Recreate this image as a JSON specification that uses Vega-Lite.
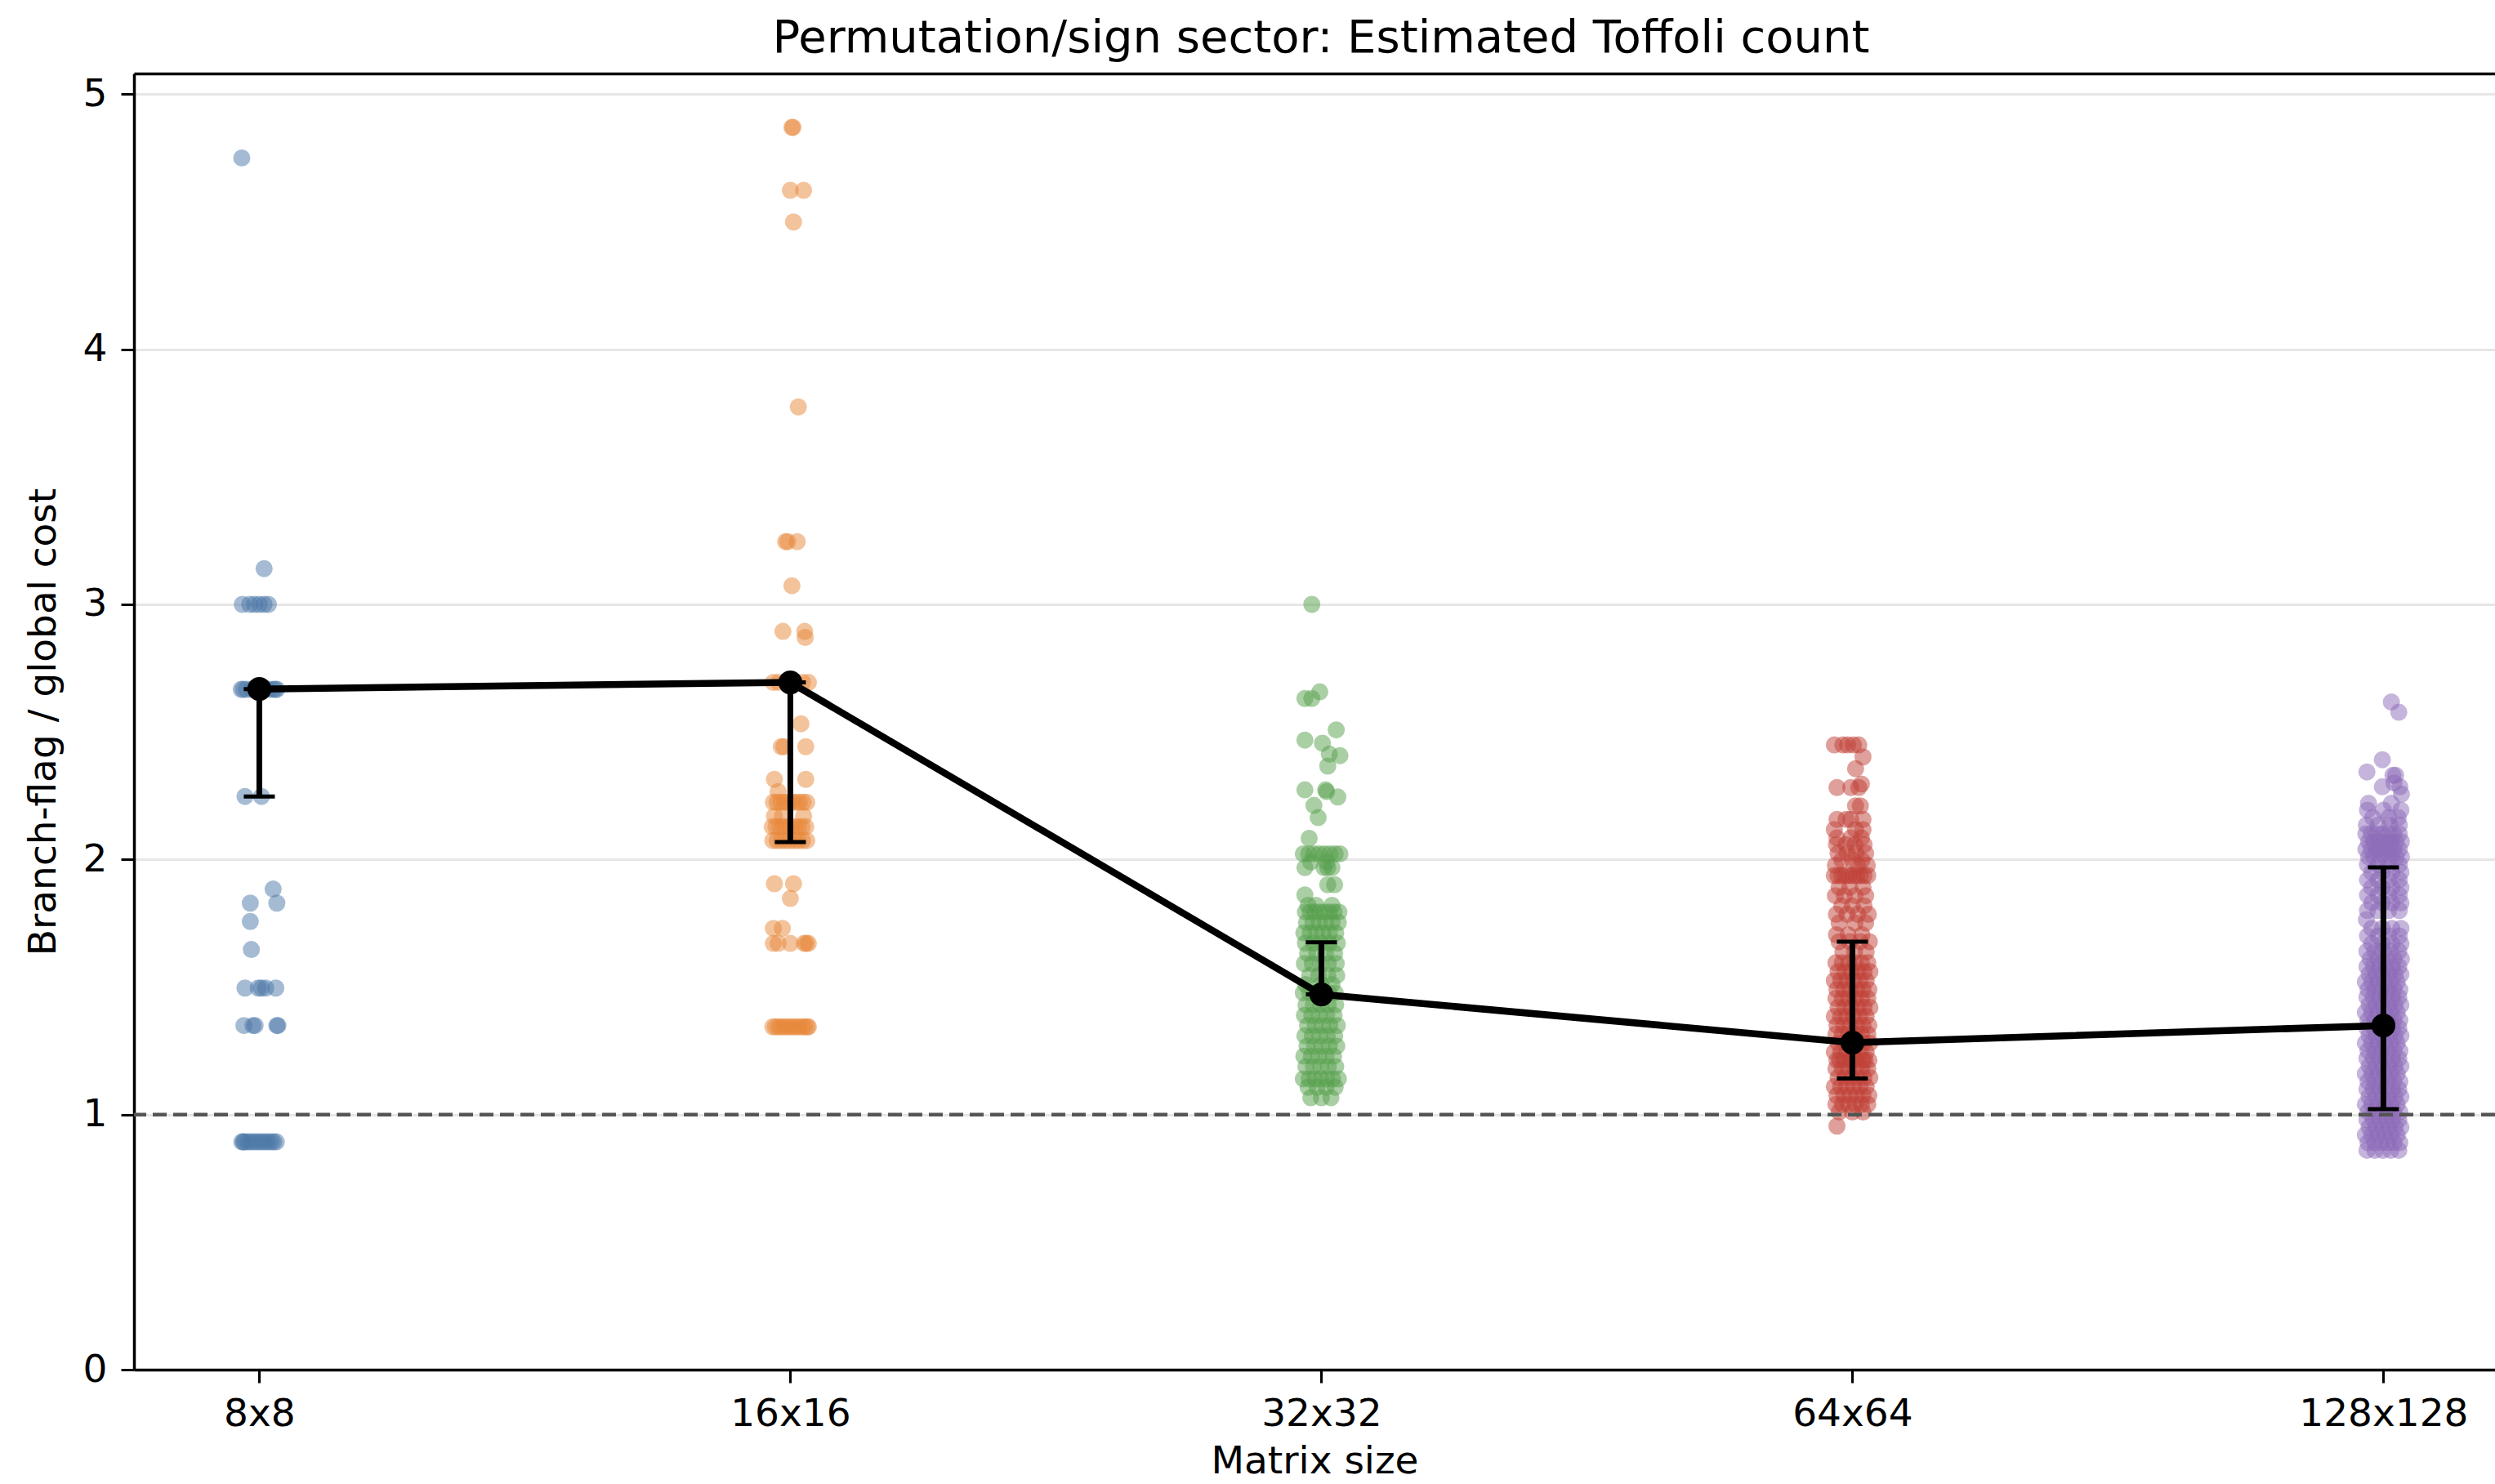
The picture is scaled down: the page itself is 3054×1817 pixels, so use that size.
{
  "$schema": "https://vega.github.io/schema/vega-lite/v6.json",
  "width": 2890,
  "height": 1587,
  "autosize": {"type": "none"},
  "padding": {"left": 164, "top": 90, "right": 0, "bottom": 140},
  "background": "white",
  "config": {
    "view": {"stroke": null},
    "font": "DejaVu Sans",
    "axis": {"labelFont": "DejaVu Sans", "titleFont": "DejaVu Sans", "labelColor": "black", "titleColor": "black", "titleFontWeight": "normal", "labelLimit": 1000}
  },
  "title": {
    "text": "Permutation/sign sector: Estimated Toffoli count",
    "font": "DejaVu Sans",
    "fontSize": 56,
    "fontWeight": "normal",
    "color": "black",
    "anchor": "middle",
    "dx": 8,
    "offset": 14
  },
  "datasets": {
    "summary": [
      {"size": "8x8", "median": 2.668, "lo": 2.247, "hi": 2.668},
      {"size": "16x16", "median": 2.694, "lo": 2.068, "hi": 2.694},
      {"size": "32x32", "median": 1.471, "lo": 1.471, "hi": 1.675},
      {"size": "64x64", "median": 1.282, "lo": 1.141, "hi": 1.678},
      {"size": "128x128", "median": 1.349, "lo": 1.021, "hi": 1.969}
    ],
    "points": [
      {"size":"8x8","ratio":4.75,"jitter":-0.033},
      {"size":"8x8","ratio":3.14,"jitter":0.009},
      {"size":"8x8","ratio":3.0,"jitter":-0.032},
      {"size":"8x8","ratio":3.0,"jitter":-0.018},
      {"size":"8x8","ratio":3.0,"jitter":-0.009},
      {"size":"8x8","ratio":3.0,"jitter":0.0},
      {"size":"8x8","ratio":3.0,"jitter":0.009},
      {"size":"8x8","ratio":3.0,"jitter":0.017},
      {"size":"8x8","ratio":2.667,"jitter":-0.034},
      {"size":"8x8","ratio":2.667,"jitter":-0.03},
      {"size":"8x8","ratio":2.667,"jitter":-0.024},
      {"size":"8x8","ratio":2.667,"jitter":-0.014},
      {"size":"8x8","ratio":2.667,"jitter":-0.006},
      {"size":"8x8","ratio":2.667,"jitter":0.002},
      {"size":"8x8","ratio":2.667,"jitter":0.01},
      {"size":"8x8","ratio":2.667,"jitter":0.018},
      {"size":"8x8","ratio":2.667,"jitter":0.026},
      {"size":"8x8","ratio":2.667,"jitter":0.03},
      {"size":"8x8","ratio":2.667,"jitter":0.033},
      {"size":"8x8","ratio":2.247,"jitter":-0.027},
      {"size":"8x8","ratio":2.247,"jitter":0.004},
      {"size":"8x8","ratio":1.884,"jitter":0.026},
      {"size":"8x8","ratio":1.829,"jitter":-0.017},
      {"size":"8x8","ratio":1.829,"jitter":0.033},
      {"size":"8x8","ratio":1.757,"jitter":-0.017},
      {"size":"8x8","ratio":1.647,"jitter":-0.015},
      {"size":"8x8","ratio":1.496,"jitter":-0.027},
      {"size":"8x8","ratio":1.496,"jitter":-0.002},
      {"size":"8x8","ratio":1.496,"jitter":0.004},
      {"size":"8x8","ratio":1.496,"jitter":0.012},
      {"size":"8x8","ratio":1.496,"jitter":0.031},
      {"size":"8x8","ratio":1.349,"jitter":-0.029},
      {"size":"8x8","ratio":1.349,"jitter":-0.012},
      {"size":"8x8","ratio":1.349,"jitter":-0.008},
      {"size":"8x8","ratio":1.349,"jitter":0.033},
      {"size":"8x8","ratio":1.349,"jitter":0.035},
      {"size":"8x8","ratio":0.893,"jitter":-0.033},
      {"size":"8x8","ratio":0.893,"jitter":-0.028},
      {"size":"8x8","ratio":0.893,"jitter":-0.022},
      {"size":"8x8","ratio":0.893,"jitter":-0.017},
      {"size":"8x8","ratio":0.893,"jitter":-0.011},
      {"size":"8x8","ratio":0.893,"jitter":-0.006},
      {"size":"8x8","ratio":0.893,"jitter":0.0},
      {"size":"8x8","ratio":0.893,"jitter":0.005},
      {"size":"8x8","ratio":0.893,"jitter":0.011},
      {"size":"8x8","ratio":0.893,"jitter":0.016},
      {"size":"8x8","ratio":0.893,"jitter":0.022},
      {"size":"8x8","ratio":0.893,"jitter":0.027},
      {"size":"8x8","ratio":0.893,"jitter":0.032},
      {"size":"8x8","ratio":0.893,"jitter":-0.03},

      {"size":"16x16","ratio":4.87,"jitter":0.003},
      {"size":"16x16","ratio":4.87,"jitter":0.005},
      {"size":"16x16","ratio":4.623,"jitter":0.0},
      {"size":"16x16","ratio":4.623,"jitter":0.025},
      {"size":"16x16","ratio":4.499,"jitter":0.006},
      {"size":"16x16","ratio":3.774,"jitter":0.015},
      {"size":"16x16","ratio":3.246,"jitter":-0.009},
      {"size":"16x16","ratio":3.246,"jitter":-0.005},
      {"size":"16x16","ratio":3.246,"jitter":0.013},
      {"size":"16x16","ratio":3.073,"jitter":0.003},
      {"size":"16x16","ratio":2.894,"jitter":-0.014},
      {"size":"16x16","ratio":2.894,"jitter":0.027},
      {"size":"16x16","ratio":2.87,"jitter":0.028},
      {"size":"16x16","ratio":2.694,"jitter":-0.032},
      {"size":"16x16","ratio":2.694,"jitter":-0.022},
      {"size":"16x16","ratio":2.694,"jitter":-0.008},
      {"size":"16x16","ratio":2.694,"jitter":0.008},
      {"size":"16x16","ratio":2.694,"jitter":0.023},
      {"size":"16x16","ratio":2.694,"jitter":0.034},
      {"size":"16x16","ratio":2.532,"jitter":0.02},
      {"size":"16x16","ratio":2.442,"jitter":-0.017},
      {"size":"16x16","ratio":2.442,"jitter":-0.012},
      {"size":"16x16","ratio":2.442,"jitter":0.029},
      {"size":"16x16","ratio":2.314,"jitter":-0.03},
      {"size":"16x16","ratio":2.314,"jitter":0.029},
      {"size":"16x16","ratio":2.266,"jitter":-0.023},
      {"size":"16x16","ratio":2.224,"jitter":-0.032},
      {"size":"16x16","ratio":2.224,"jitter":-0.025},
      {"size":"16x16","ratio":2.224,"jitter":-0.018},
      {"size":"16x16","ratio":2.224,"jitter":-0.011},
      {"size":"16x16","ratio":2.224,"jitter":-0.004},
      {"size":"16x16","ratio":2.224,"jitter":0.003},
      {"size":"16x16","ratio":2.224,"jitter":0.01},
      {"size":"16x16","ratio":2.224,"jitter":0.017},
      {"size":"16x16","ratio":2.224,"jitter":0.024},
      {"size":"16x16","ratio":2.224,"jitter":0.031},
      {"size":"16x16","ratio":2.17,"jitter":-0.03},
      {"size":"16x16","ratio":2.17,"jitter":-0.015},
      {"size":"16x16","ratio":2.17,"jitter":0.025},
      {"size":"16x16","ratio":2.128,"jitter":-0.034},
      {"size":"16x16","ratio":2.128,"jitter":-0.027},
      {"size":"16x16","ratio":2.128,"jitter":-0.02},
      {"size":"16x16","ratio":2.128,"jitter":-0.013},
      {"size":"16x16","ratio":2.128,"jitter":-0.006},
      {"size":"16x16","ratio":2.128,"jitter":0.001},
      {"size":"16x16","ratio":2.128,"jitter":0.008},
      {"size":"16x16","ratio":2.128,"jitter":0.015},
      {"size":"16x16","ratio":2.128,"jitter":0.022},
      {"size":"16x16","ratio":2.128,"jitter":0.029},
      {"size":"16x16","ratio":2.074,"jitter":-0.033},
      {"size":"16x16","ratio":2.074,"jitter":-0.025},
      {"size":"16x16","ratio":2.074,"jitter":-0.017},
      {"size":"16x16","ratio":2.074,"jitter":-0.009},
      {"size":"16x16","ratio":2.074,"jitter":-0.001},
      {"size":"16x16","ratio":2.074,"jitter":0.007},
      {"size":"16x16","ratio":2.074,"jitter":0.015},
      {"size":"16x16","ratio":2.074,"jitter":0.023},
      {"size":"16x16","ratio":2.074,"jitter":0.031},
      {"size":"16x16","ratio":1.905,"jitter":-0.03},
      {"size":"16x16","ratio":1.905,"jitter":0.006},
      {"size":"16x16","ratio":1.847,"jitter":0.0},
      {"size":"16x16","ratio":1.73,"jitter":-0.032},
      {"size":"16x16","ratio":1.73,"jitter":-0.015},
      {"size":"16x16","ratio":1.671,"jitter":-0.032},
      {"size":"16x16","ratio":1.671,"jitter":-0.023},
      {"size":"16x16","ratio":1.671,"jitter":0.0},
      {"size":"16x16","ratio":1.671,"jitter":0.026},
      {"size":"16x16","ratio":1.671,"jitter":0.03},
      {"size":"16x16","ratio":1.671,"jitter":0.034},
      {"size":"16x16","ratio":1.344,"jitter":-0.033},
      {"size":"16x16","ratio":1.344,"jitter":-0.028},
      {"size":"16x16","ratio":1.344,"jitter":-0.022},
      {"size":"16x16","ratio":1.344,"jitter":-0.017},
      {"size":"16x16","ratio":1.344,"jitter":-0.011},
      {"size":"16x16","ratio":1.344,"jitter":-0.006},
      {"size":"16x16","ratio":1.344,"jitter":0.0},
      {"size":"16x16","ratio":1.344,"jitter":0.005},
      {"size":"16x16","ratio":1.344,"jitter":0.011},
      {"size":"16x16","ratio":1.344,"jitter":0.016},
      {"size":"16x16","ratio":1.344,"jitter":0.022},
      {"size":"16x16","ratio":1.344,"jitter":0.027},
      {"size":"16x16","ratio":1.344,"jitter":0.032},
      {"size":"16x16","ratio":1.344,"jitter":0.034},

      {"size":"32x32","ratio":3.0,"jitter":-0.018},
      {"size":"32x32","ratio":2.657,"jitter":-0.003},
      {"size":"32x32","ratio":2.631,"jitter":-0.031},
      {"size":"32x32","ratio":2.631,"jitter":-0.018},
      {"size":"32x32","ratio":2.508,"jitter":0.028},
      {"size":"32x32","ratio":2.468,"jitter":-0.031},
      {"size":"32x32","ratio":2.456,"jitter":0.002},
      {"size":"32x32","ratio":2.413,"jitter":0.015},
      {"size":"32x32","ratio":2.407,"jitter":0.035},
      {"size":"32x32","ratio":2.366,"jitter":0.012},
      {"size":"32x32","ratio":2.273,"jitter":-0.031},
      {"size":"32x32","ratio":2.273,"jitter":0.008},
      {"size":"32x32","ratio":2.266,"jitter":0.01},
      {"size":"32x32","ratio":2.245,"jitter":0.031},
      {"size":"32x32","ratio":2.212,"jitter":-0.014},
      {"size":"32x32","ratio":2.164,"jitter":-0.006},
      {"size":"32x32","ratio":2.083,"jitter":-0.023},
      {"size":"32x32","ratio":2.022,"jitter":-0.034},
      {"size":"32x32","ratio":2.022,"jitter":-0.024},
      {"size":"32x32","ratio":2.022,"jitter":-0.014},
      {"size":"32x32","ratio":2.022,"jitter":-0.004},
      {"size":"32x32","ratio":2.022,"jitter":0.006},
      {"size":"32x32","ratio":2.022,"jitter":0.016},
      {"size":"32x32","ratio":2.022,"jitter":0.026},
      {"size":"32x32","ratio":2.022,"jitter":0.035},
      {"size":"32x32","ratio":1.99,"jitter":-0.02},
      {"size":"32x32","ratio":1.99,"jitter":0.01},
      {"size":"32x32","ratio":1.968,"jitter":-0.031},
      {"size":"32x32","ratio":1.968,"jitter":0.005},
      {"size":"32x32","ratio":1.968,"jitter":0.012},
      {"size":"32x32","ratio":1.968,"jitter":0.02},
      {"size":"32x32","ratio":1.901,"jitter":0.012},
      {"size":"32x32","ratio":1.901,"jitter":0.025},
      {"size":"32x32","ratio":1.861,"jitter":-0.031},
      {"size":"32x32","ratio":1.82,"jitter":-0.025},
      {"size":"32x32","ratio":1.82,"jitter":-0.01},
      {"size":"32x32","ratio":1.82,"jitter":0.02},
      {"size":"32x32","ratio":1.794,"jitter":-0.03},
      {"size":"32x32","ratio":1.794,"jitter":-0.021},
      {"size":"32x32","ratio":1.794,"jitter":-0.012},
      {"size":"32x32","ratio":1.794,"jitter":-0.003},
      {"size":"32x32","ratio":1.794,"jitter":0.006},
      {"size":"32x32","ratio":1.794,"jitter":0.015},
      {"size":"32x32","ratio":1.794,"jitter":0.024},
      {"size":"32x32","ratio":1.794,"jitter":0.033},
      {"size":"32x32","ratio":1.753,"jitter":-0.028},
      {"size":"32x32","ratio":1.753,"jitter":-0.016},
      {"size":"32x32","ratio":1.753,"jitter":-0.004},
      {"size":"32x32","ratio":1.753,"jitter":0.008},
      {"size":"32x32","ratio":1.753,"jitter":0.02},
      {"size":"32x32","ratio":1.753,"jitter":0.032},
      {"size":"32x32","ratio":1.712,"jitter":-0.033},
      {"size":"32x32","ratio":1.712,"jitter":-0.021},
      {"size":"32x32","ratio":1.712,"jitter":-0.009},
      {"size":"32x32","ratio":1.712,"jitter":0.003},
      {"size":"32x32","ratio":1.712,"jitter":0.015},
      {"size":"32x32","ratio":1.712,"jitter":0.027},
      {"size":"32x32","ratio":1.672,"jitter":-0.03},
      {"size":"32x32","ratio":1.672,"jitter":-0.015},
      {"size":"32x32","ratio":1.672,"jitter":0.0},
      {"size":"32x32","ratio":1.672,"jitter":0.015},
      {"size":"32x32","ratio":1.672,"jitter":0.03},
      {"size":"32x32","ratio":1.632,"jitter":-0.026},
      {"size":"32x32","ratio":1.632,"jitter":-0.009},
      {"size":"32x32","ratio":1.632,"jitter":0.008},
      {"size":"32x32","ratio":1.632,"jitter":0.025},
      {"size":"32x32","ratio":1.592,"jitter":-0.032},
      {"size":"32x32","ratio":1.592,"jitter":-0.017},
      {"size":"32x32","ratio":1.592,"jitter":-0.002},
      {"size":"32x32","ratio":1.592,"jitter":0.013},
      {"size":"32x32","ratio":1.592,"jitter":0.028},
      {"size":"32x32","ratio":1.545,"jitter":-0.022},
      {"size":"32x32","ratio":1.545,"jitter":-0.005},
      {"size":"32x32","ratio":1.545,"jitter":0.012},
      {"size":"32x32","ratio":1.545,"jitter":0.029},
      {"size":"32x32","ratio":1.51,"jitter":-0.03},
      {"size":"32x32","ratio":1.51,"jitter":0.0},
      {"size":"32x32","ratio":1.51,"jitter":0.02},
      {"size":"32x32","ratio":1.477,"jitter":-0.034},
      {"size":"32x32","ratio":1.477,"jitter":-0.022},
      {"size":"32x32","ratio":1.477,"jitter":-0.01},
      {"size":"32x32","ratio":1.477,"jitter":0.002},
      {"size":"32x32","ratio":1.477,"jitter":0.014},
      {"size":"32x32","ratio":1.477,"jitter":0.026},
      {"size":"32x32","ratio":1.43,"jitter":-0.029},
      {"size":"32x32","ratio":1.43,"jitter":-0.015},
      {"size":"32x32","ratio":1.43,"jitter":-0.001},
      {"size":"32x32","ratio":1.43,"jitter":0.013},
      {"size":"32x32","ratio":1.43,"jitter":0.027},
      {"size":"32x32","ratio":1.389,"jitter":-0.032},
      {"size":"32x32","ratio":1.389,"jitter":-0.018},
      {"size":"32x32","ratio":1.389,"jitter":-0.004},
      {"size":"32x32","ratio":1.389,"jitter":0.01},
      {"size":"32x32","ratio":1.389,"jitter":0.024},
      {"size":"32x32","ratio":1.349,"jitter":-0.026},
      {"size":"32x32","ratio":1.349,"jitter":-0.012},
      {"size":"32x32","ratio":1.349,"jitter":0.002},
      {"size":"32x32","ratio":1.349,"jitter":0.016},
      {"size":"32x32","ratio":1.349,"jitter":0.03},
      {"size":"32x32","ratio":1.309,"jitter":-0.031},
      {"size":"32x32","ratio":1.309,"jitter":-0.017},
      {"size":"32x32","ratio":1.309,"jitter":-0.003},
      {"size":"32x32","ratio":1.309,"jitter":0.011},
      {"size":"32x32","ratio":1.309,"jitter":0.025},
      {"size":"32x32","ratio":1.268,"jitter":-0.027},
      {"size":"32x32","ratio":1.268,"jitter":-0.013},
      {"size":"32x32","ratio":1.268,"jitter":0.001},
      {"size":"32x32","ratio":1.268,"jitter":0.015},
      {"size":"32x32","ratio":1.268,"jitter":0.029},
      {"size":"32x32","ratio":1.229,"jitter":-0.033},
      {"size":"32x32","ratio":1.229,"jitter":-0.019},
      {"size":"32x32","ratio":1.229,"jitter":-0.005},
      {"size":"32x32","ratio":1.229,"jitter":0.009},
      {"size":"32x32","ratio":1.229,"jitter":0.023},
      {"size":"32x32","ratio":1.188,"jitter":-0.029},
      {"size":"32x32","ratio":1.188,"jitter":-0.015},
      {"size":"32x32","ratio":1.188,"jitter":-0.001},
      {"size":"32x32","ratio":1.188,"jitter":0.013},
      {"size":"32x32","ratio":1.188,"jitter":0.027},
      {"size":"32x32","ratio":1.14,"jitter":-0.034},
      {"size":"32x32","ratio":1.14,"jitter":-0.023},
      {"size":"32x32","ratio":1.14,"jitter":-0.012},
      {"size":"32x32","ratio":1.14,"jitter":-0.001},
      {"size":"32x32","ratio":1.14,"jitter":0.01},
      {"size":"32x32","ratio":1.14,"jitter":0.021},
      {"size":"32x32","ratio":1.14,"jitter":0.032},
      {"size":"32x32","ratio":1.107,"jitter":-0.025},
      {"size":"32x32","ratio":1.107,"jitter":-0.008},
      {"size":"32x32","ratio":1.107,"jitter":0.009},
      {"size":"32x32","ratio":1.107,"jitter":0.026},
      {"size":"32x32","ratio":1.066,"jitter":-0.02},
      {"size":"32x32","ratio":1.066,"jitter":0.0},
      {"size":"32x32","ratio":1.066,"jitter":0.018},

      {"size":"64x64","ratio":2.449,"jitter":-0.034},
      {"size":"64x64","ratio":2.449,"jitter":-0.018},
      {"size":"64x64","ratio":2.449,"jitter":-0.009},
      {"size":"64x64","ratio":2.449,"jitter":0.002},
      {"size":"64x64","ratio":2.449,"jitter":0.012},
      {"size":"64x64","ratio":2.402,"jitter":0.02},
      {"size":"64x64","ratio":2.356,"jitter":0.006},
      {"size":"64x64","ratio":2.296,"jitter":0.017},
      {"size":"64x64","ratio":2.282,"jitter":-0.029},
      {"size":"64x64","ratio":2.282,"jitter":-0.003},
      {"size":"64x64","ratio":2.282,"jitter":0.012},
      {"size":"64x64","ratio":2.21,"jitter":0.006},
      {"size":"64x64","ratio":2.21,"jitter":0.015},
      {"size":"64x64","ratio":2.157,"jitter":-0.029},
      {"size":"64x64","ratio":2.157,"jitter":-0.012},
      {"size":"64x64","ratio":2.157,"jitter":-0.003},
      {"size":"64x64","ratio":2.157,"jitter":0.02},
      {"size":"64x64","ratio":2.117,"jitter":-0.034},
      {"size":"64x64","ratio":2.117,"jitter":0.006},
      {"size":"64x64","ratio":2.117,"jitter":0.02},
      {"size":"64x64","ratio":2.084,"jitter":-0.029},
      {"size":"64x64","ratio":2.084,"jitter":-0.003},
      {"size":"64x64","ratio":2.084,"jitter":0.017},
      {"size":"64x64","ratio":2.058,"jitter":-0.03},
      {"size":"64x64","ratio":2.058,"jitter":-0.012},
      {"size":"64x64","ratio":2.058,"jitter":0.005},
      {"size":"64x64","ratio":2.058,"jitter":0.022},
      {"size":"64x64","ratio":2.024,"jitter":-0.027},
      {"size":"64x64","ratio":2.024,"jitter":-0.01},
      {"size":"64x64","ratio":2.024,"jitter":0.007},
      {"size":"64x64","ratio":2.024,"jitter":0.025},
      {"size":"64x64","ratio":1.997,"jitter":-0.02},
      {"size":"64x64","ratio":1.997,"jitter":0.0},
      {"size":"64x64","ratio":1.997,"jitter":0.018},
      {"size":"64x64","ratio":1.977,"jitter":-0.032},
      {"size":"64x64","ratio":1.977,"jitter":0.01},
      {"size":"64x64","ratio":1.977,"jitter":0.028},
      {"size":"64x64","ratio":1.937,"jitter":-0.034},
      {"size":"64x64","ratio":1.937,"jitter":-0.027},
      {"size":"64x64","ratio":1.937,"jitter":-0.02},
      {"size":"64x64","ratio":1.937,"jitter":-0.013},
      {"size":"64x64","ratio":1.937,"jitter":-0.006},
      {"size":"64x64","ratio":1.937,"jitter":0.001},
      {"size":"64x64","ratio":1.937,"jitter":0.008},
      {"size":"64x64","ratio":1.937,"jitter":0.015},
      {"size":"64x64","ratio":1.937,"jitter":0.022},
      {"size":"64x64","ratio":1.937,"jitter":0.029},
      {"size":"64x64","ratio":1.891,"jitter":-0.025},
      {"size":"64x64","ratio":1.891,"jitter":-0.005},
      {"size":"64x64","ratio":1.891,"jitter":0.02},
      {"size":"64x64","ratio":1.858,"jitter":-0.032},
      {"size":"64x64","ratio":1.858,"jitter":-0.015},
      {"size":"64x64","ratio":1.858,"jitter":0.005},
      {"size":"64x64","ratio":1.858,"jitter":0.025},
      {"size":"64x64","ratio":1.818,"jitter":-0.02},
      {"size":"64x64","ratio":1.818,"jitter":0.0},
      {"size":"64x64","ratio":1.818,"jitter":0.022},
      {"size":"64x64","ratio":1.785,"jitter":-0.03},
      {"size":"64x64","ratio":1.785,"jitter":-0.01},
      {"size":"64x64","ratio":1.785,"jitter":0.01},
      {"size":"64x64","ratio":1.785,"jitter":0.03},
      {"size":"64x64","ratio":1.751,"jitter":-0.025},
      {"size":"64x64","ratio":1.751,"jitter":0.005},
      {"size":"64x64","ratio":1.751,"jitter":0.025},
      {"size":"64x64","ratio":1.705,"jitter":-0.03},
      {"size":"64x64","ratio":1.705,"jitter":-0.008},
      {"size":"64x64","ratio":1.705,"jitter":0.018},
      {"size":"64x64","ratio":1.678,"jitter":-0.025},
      {"size":"64x64","ratio":1.678,"jitter":-0.005},
      {"size":"64x64","ratio":1.678,"jitter":0.015},
      {"size":"64x64","ratio":1.678,"jitter":0.032},
      {"size":"64x64","ratio":1.638,"jitter":-0.018},
      {"size":"64x64","ratio":1.638,"jitter":0.004},
      {"size":"64x64","ratio":1.638,"jitter":0.026},
      {"size":"64x64","ratio":1.595,"jitter":-0.031},
      {"size":"64x64","ratio":1.595,"jitter":-0.019},
      {"size":"64x64","ratio":1.595,"jitter":-0.007},
      {"size":"64x64","ratio":1.595,"jitter":0.005},
      {"size":"64x64","ratio":1.595,"jitter":0.017},
      {"size":"64x64","ratio":1.595,"jitter":0.029},
      {"size":"64x64","ratio":1.56,"jitter":-0.027},
      {"size":"64x64","ratio":1.56,"jitter":-0.014},
      {"size":"64x64","ratio":1.56,"jitter":-0.002},
      {"size":"64x64","ratio":1.56,"jitter":0.01},
      {"size":"64x64","ratio":1.56,"jitter":0.022},
      {"size":"64x64","ratio":1.56,"jitter":0.033},
      {"size":"64x64","ratio":1.525,"jitter":-0.034},
      {"size":"64x64","ratio":1.525,"jitter":-0.022},
      {"size":"64x64","ratio":1.525,"jitter":-0.01},
      {"size":"64x64","ratio":1.525,"jitter":0.002},
      {"size":"64x64","ratio":1.525,"jitter":0.014},
      {"size":"64x64","ratio":1.525,"jitter":0.026},
      {"size":"64x64","ratio":1.49,"jitter":-0.029},
      {"size":"64x64","ratio":1.49,"jitter":-0.016},
      {"size":"64x64","ratio":1.49,"jitter":-0.004},
      {"size":"64x64","ratio":1.49,"jitter":0.008},
      {"size":"64x64","ratio":1.49,"jitter":0.02},
      {"size":"64x64","ratio":1.49,"jitter":0.031},
      {"size":"64x64","ratio":1.455,"jitter":-0.031},
      {"size":"64x64","ratio":1.455,"jitter":-0.019},
      {"size":"64x64","ratio":1.455,"jitter":-0.007},
      {"size":"64x64","ratio":1.455,"jitter":0.005},
      {"size":"64x64","ratio":1.455,"jitter":0.017},
      {"size":"64x64","ratio":1.455,"jitter":0.029},
      {"size":"64x64","ratio":1.42,"jitter":-0.027},
      {"size":"64x64","ratio":1.42,"jitter":-0.014},
      {"size":"64x64","ratio":1.42,"jitter":-0.002},
      {"size":"64x64","ratio":1.42,"jitter":0.01},
      {"size":"64x64","ratio":1.42,"jitter":0.022},
      {"size":"64x64","ratio":1.42,"jitter":0.033},
      {"size":"64x64","ratio":1.385,"jitter":-0.034},
      {"size":"64x64","ratio":1.385,"jitter":-0.022},
      {"size":"64x64","ratio":1.385,"jitter":-0.01},
      {"size":"64x64","ratio":1.385,"jitter":0.002},
      {"size":"64x64","ratio":1.385,"jitter":0.014},
      {"size":"64x64","ratio":1.385,"jitter":0.026},
      {"size":"64x64","ratio":1.35,"jitter":-0.029},
      {"size":"64x64","ratio":1.35,"jitter":-0.016},
      {"size":"64x64","ratio":1.35,"jitter":-0.004},
      {"size":"64x64","ratio":1.35,"jitter":0.008},
      {"size":"64x64","ratio":1.35,"jitter":0.02},
      {"size":"64x64","ratio":1.35,"jitter":0.031},
      {"size":"64x64","ratio":1.315,"jitter":-0.031},
      {"size":"64x64","ratio":1.315,"jitter":-0.019},
      {"size":"64x64","ratio":1.315,"jitter":-0.007},
      {"size":"64x64","ratio":1.315,"jitter":0.005},
      {"size":"64x64","ratio":1.315,"jitter":0.017},
      {"size":"64x64","ratio":1.315,"jitter":0.029},
      {"size":"64x64","ratio":1.28,"jitter":-0.027},
      {"size":"64x64","ratio":1.28,"jitter":-0.014},
      {"size":"64x64","ratio":1.28,"jitter":-0.002},
      {"size":"64x64","ratio":1.28,"jitter":0.01},
      {"size":"64x64","ratio":1.28,"jitter":0.022},
      {"size":"64x64","ratio":1.28,"jitter":0.033},
      {"size":"64x64","ratio":1.245,"jitter":-0.034},
      {"size":"64x64","ratio":1.245,"jitter":-0.022},
      {"size":"64x64","ratio":1.245,"jitter":-0.01},
      {"size":"64x64","ratio":1.245,"jitter":0.002},
      {"size":"64x64","ratio":1.245,"jitter":0.014},
      {"size":"64x64","ratio":1.245,"jitter":0.026},
      {"size":"64x64","ratio":1.213,"jitter":-0.029},
      {"size":"64x64","ratio":1.213,"jitter":-0.024},
      {"size":"64x64","ratio":1.213,"jitter":-0.016},
      {"size":"64x64","ratio":1.213,"jitter":-0.004},
      {"size":"64x64","ratio":1.213,"jitter":0.0},
      {"size":"64x64","ratio":1.213,"jitter":0.008},
      {"size":"64x64","ratio":1.213,"jitter":0.02},
      {"size":"64x64","ratio":1.213,"jitter":0.024},
      {"size":"64x64","ratio":1.213,"jitter":0.031},
      {"size":"64x64","ratio":1.18,"jitter":-0.031},
      {"size":"64x64","ratio":1.18,"jitter":-0.019},
      {"size":"64x64","ratio":1.18,"jitter":-0.007},
      {"size":"64x64","ratio":1.18,"jitter":0.005},
      {"size":"64x64","ratio":1.18,"jitter":0.017},
      {"size":"64x64","ratio":1.18,"jitter":0.029},
      {"size":"64x64","ratio":1.145,"jitter":-0.027},
      {"size":"64x64","ratio":1.145,"jitter":-0.014},
      {"size":"64x64","ratio":1.145,"jitter":-0.002},
      {"size":"64x64","ratio":1.145,"jitter":0.01},
      {"size":"64x64","ratio":1.145,"jitter":0.022},
      {"size":"64x64","ratio":1.145,"jitter":0.033},
      {"size":"64x64","ratio":1.11,"jitter":-0.034},
      {"size":"64x64","ratio":1.11,"jitter":-0.022},
      {"size":"64x64","ratio":1.11,"jitter":-0.01},
      {"size":"64x64","ratio":1.11,"jitter":0.002},
      {"size":"64x64","ratio":1.11,"jitter":0.014},
      {"size":"64x64","ratio":1.11,"jitter":0.026},
      {"size":"64x64","ratio":1.075,"jitter":-0.029},
      {"size":"64x64","ratio":1.075,"jitter":-0.016},
      {"size":"64x64","ratio":1.075,"jitter":-0.004},
      {"size":"64x64","ratio":1.075,"jitter":0.008},
      {"size":"64x64","ratio":1.075,"jitter":0.02},
      {"size":"64x64","ratio":1.075,"jitter":0.031},
      {"size":"64x64","ratio":1.04,"jitter":-0.031},
      {"size":"64x64","ratio":1.04,"jitter":-0.019},
      {"size":"64x64","ratio":1.04,"jitter":-0.007},
      {"size":"64x64","ratio":1.04,"jitter":0.005},
      {"size":"64x64","ratio":1.04,"jitter":0.017},
      {"size":"64x64","ratio":1.04,"jitter":0.029},
      {"size":"64x64","ratio":1.01,"jitter":-0.025},
      {"size":"64x64","ratio":1.01,"jitter":0.0},
      {"size":"64x64","ratio":1.01,"jitter":0.02},
      {"size":"64x64","ratio":0.955,"jitter":-0.029},

      {"size":"128x128","ratio":2.617,"jitter":0.015},
      {"size":"128x128","ratio":2.577,"jitter":0.029},
      {"size":"128x128","ratio":2.391,"jitter":-0.002},
      {"size":"128x128","ratio":2.343,"jitter":-0.031},
      {"size":"128x128","ratio":2.33,"jitter":0.018},
      {"size":"128x128","ratio":2.33,"jitter":0.023},
      {"size":"128x128","ratio":2.3,"jitter":0.02},
      {"size":"128x128","ratio":2.285,"jitter":-0.002},
      {"size":"128x128","ratio":2.285,"jitter":0.031},
      {"size":"128x128","ratio":2.256,"jitter":0.034},
      {"size":"128x128","ratio":2.22,"jitter":-0.028},
      {"size":"128x128","ratio":2.22,"jitter":0.015},
      {"size":"128x128","ratio":2.193,"jitter":-0.03},
      {"size":"128x128","ratio":2.193,"jitter":0.0},
      {"size":"128x128","ratio":2.193,"jitter":0.033},
      {"size":"128x128","ratio":2.164,"jitter":-0.02},
      {"size":"128x128","ratio":2.164,"jitter":0.01},
      {"size":"128x128","ratio":2.164,"jitter":0.028},
      {"size":"128x128","ratio":2.135,"jitter":-0.032},
      {"size":"128x128","ratio":2.135,"jitter":-0.01},
      {"size":"128x128","ratio":2.135,"jitter":0.012},
      {"size":"128x128","ratio":2.135,"jitter":0.03},
      {"size":"128x128","ratio":2.1,"jitter":-0.033},
      {"size":"128x128","ratio":2.1,"jitter":-0.023},
      {"size":"128x128","ratio":2.1,"jitter":-0.012},
      {"size":"128x128","ratio":2.1,"jitter":-0.002},
      {"size":"128x128","ratio":2.1,"jitter":0.009},
      {"size":"128x128","ratio":2.1,"jitter":0.019},
      {"size":"128x128","ratio":2.1,"jitter":0.03},
      {"size":"128x128","ratio":2.07,"jitter":-0.028},
      {"size":"128x128","ratio":2.07,"jitter":-0.018},
      {"size":"128x128","ratio":2.07,"jitter":-0.007},
      {"size":"128x128","ratio":2.07,"jitter":0.003},
      {"size":"128x128","ratio":2.07,"jitter":0.014},
      {"size":"128x128","ratio":2.07,"jitter":0.024},
      {"size":"128x128","ratio":2.07,"jitter":0.034},
      {"size":"128x128","ratio":2.04,"jitter":-0.033},
      {"size":"128x128","ratio":2.04,"jitter":-0.023},
      {"size":"128x128","ratio":2.04,"jitter":-0.012},
      {"size":"128x128","ratio":2.04,"jitter":-0.002},
      {"size":"128x128","ratio":2.04,"jitter":0.009},
      {"size":"128x128","ratio":2.04,"jitter":0.019},
      {"size":"128x128","ratio":2.04,"jitter":0.03},
      {"size":"128x128","ratio":2.01,"jitter":-0.028},
      {"size":"128x128","ratio":2.01,"jitter":-0.018},
      {"size":"128x128","ratio":2.01,"jitter":-0.007},
      {"size":"128x128","ratio":2.01,"jitter":0.003},
      {"size":"128x128","ratio":2.01,"jitter":0.014},
      {"size":"128x128","ratio":2.01,"jitter":0.024},
      {"size":"128x128","ratio":2.01,"jitter":0.034},
      {"size":"128x128","ratio":1.98,"jitter":-0.03},
      {"size":"128x128","ratio":1.98,"jitter":-0.01},
      {"size":"128x128","ratio":1.98,"jitter":0.01},
      {"size":"128x128","ratio":1.98,"jitter":0.03},
      {"size":"128x128","ratio":1.95,"jitter":-0.022},
      {"size":"128x128","ratio":1.95,"jitter":-0.002},
      {"size":"128x128","ratio":1.95,"jitter":0.016},
      {"size":"128x128","ratio":1.95,"jitter":0.033},
      {"size":"128x128","ratio":1.92,"jitter":-0.03},
      {"size":"128x128","ratio":1.92,"jitter":-0.01},
      {"size":"128x128","ratio":1.92,"jitter":0.01},
      {"size":"128x128","ratio":1.92,"jitter":0.03},
      {"size":"128x128","ratio":1.89,"jitter":-0.022},
      {"size":"128x128","ratio":1.89,"jitter":-0.002},
      {"size":"128x128","ratio":1.89,"jitter":0.016},
      {"size":"128x128","ratio":1.89,"jitter":0.033},
      {"size":"128x128","ratio":1.86,"jitter":-0.03},
      {"size":"128x128","ratio":1.86,"jitter":-0.01},
      {"size":"128x128","ratio":1.86,"jitter":0.01},
      {"size":"128x128","ratio":1.86,"jitter":0.03},
      {"size":"128x128","ratio":1.83,"jitter":-0.022},
      {"size":"128x128","ratio":1.83,"jitter":-0.002},
      {"size":"128x128","ratio":1.83,"jitter":0.016},
      {"size":"128x128","ratio":1.83,"jitter":0.033},
      {"size":"128x128","ratio":1.8,"jitter":-0.03},
      {"size":"128x128","ratio":1.8,"jitter":-0.01},
      {"size":"128x128","ratio":1.8,"jitter":0.01},
      {"size":"128x128","ratio":1.8,"jitter":0.03},
      {"size":"128x128","ratio":1.764,"jitter":-0.032},
      {"size":"128x128","ratio":1.73,"jitter":-0.022},
      {"size":"128x128","ratio":1.73,"jitter":-0.002},
      {"size":"128x128","ratio":1.73,"jitter":0.016},
      {"size":"128x128","ratio":1.73,"jitter":0.033},
      {"size":"128x128","ratio":1.7,"jitter":-0.03},
      {"size":"128x128","ratio":1.7,"jitter":-0.01},
      {"size":"128x128","ratio":1.7,"jitter":0.01},
      {"size":"128x128","ratio":1.7,"jitter":0.03},
      {"size":"128x128","ratio":1.67,"jitter":-0.022},
      {"size":"128x128","ratio":1.67,"jitter":-0.002},
      {"size":"128x128","ratio":1.67,"jitter":0.016},
      {"size":"128x128","ratio":1.67,"jitter":0.033},
      {"size":"128x128","ratio":1.64,"jitter":-0.031},
      {"size":"128x128","ratio":1.64,"jitter":-0.016},
      {"size":"128x128","ratio":1.64,"jitter":-0.001},
      {"size":"128x128","ratio":1.64,"jitter":0.014},
      {"size":"128x128","ratio":1.64,"jitter":0.029},
      {"size":"128x128","ratio":1.61,"jitter":-0.025},
      {"size":"128x128","ratio":1.61,"jitter":-0.01},
      {"size":"128x128","ratio":1.61,"jitter":0.005},
      {"size":"128x128","ratio":1.61,"jitter":0.02},
      {"size":"128x128","ratio":1.61,"jitter":0.034},
      {"size":"128x128","ratio":1.58,"jitter":-0.031},
      {"size":"128x128","ratio":1.58,"jitter":-0.019},
      {"size":"128x128","ratio":1.58,"jitter":-0.007},
      {"size":"128x128","ratio":1.58,"jitter":0.005},
      {"size":"128x128","ratio":1.58,"jitter":0.017},
      {"size":"128x128","ratio":1.58,"jitter":0.029},
      {"size":"128x128","ratio":1.55,"jitter":-0.027},
      {"size":"128x128","ratio":1.55,"jitter":-0.014},
      {"size":"128x128","ratio":1.55,"jitter":-0.002},
      {"size":"128x128","ratio":1.55,"jitter":0.01},
      {"size":"128x128","ratio":1.55,"jitter":0.022},
      {"size":"128x128","ratio":1.55,"jitter":0.033},
      {"size":"128x128","ratio":1.52,"jitter":-0.034},
      {"size":"128x128","ratio":1.52,"jitter":-0.022},
      {"size":"128x128","ratio":1.52,"jitter":-0.01},
      {"size":"128x128","ratio":1.52,"jitter":0.002},
      {"size":"128x128","ratio":1.52,"jitter":0.014},
      {"size":"128x128","ratio":1.52,"jitter":0.026},
      {"size":"128x128","ratio":1.49,"jitter":-0.029},
      {"size":"128x128","ratio":1.49,"jitter":-0.016},
      {"size":"128x128","ratio":1.49,"jitter":-0.004},
      {"size":"128x128","ratio":1.49,"jitter":0.008},
      {"size":"128x128","ratio":1.49,"jitter":0.02},
      {"size":"128x128","ratio":1.49,"jitter":0.031},
      {"size":"128x128","ratio":1.46,"jitter":-0.031},
      {"size":"128x128","ratio":1.46,"jitter":-0.019},
      {"size":"128x128","ratio":1.46,"jitter":-0.007},
      {"size":"128x128","ratio":1.46,"jitter":0.005},
      {"size":"128x128","ratio":1.46,"jitter":0.017},
      {"size":"128x128","ratio":1.46,"jitter":0.029},
      {"size":"128x128","ratio":1.43,"jitter":-0.027},
      {"size":"128x128","ratio":1.43,"jitter":-0.014},
      {"size":"128x128","ratio":1.43,"jitter":-0.002},
      {"size":"128x128","ratio":1.43,"jitter":0.01},
      {"size":"128x128","ratio":1.43,"jitter":0.022},
      {"size":"128x128","ratio":1.43,"jitter":0.033},
      {"size":"128x128","ratio":1.4,"jitter":-0.034},
      {"size":"128x128","ratio":1.4,"jitter":-0.022},
      {"size":"128x128","ratio":1.4,"jitter":-0.01},
      {"size":"128x128","ratio":1.4,"jitter":0.002},
      {"size":"128x128","ratio":1.4,"jitter":0.014},
      {"size":"128x128","ratio":1.4,"jitter":0.026},
      {"size":"128x128","ratio":1.37,"jitter":-0.029},
      {"size":"128x128","ratio":1.37,"jitter":-0.016},
      {"size":"128x128","ratio":1.37,"jitter":-0.004},
      {"size":"128x128","ratio":1.37,"jitter":0.008},
      {"size":"128x128","ratio":1.37,"jitter":0.02},
      {"size":"128x128","ratio":1.37,"jitter":0.031},
      {"size":"128x128","ratio":1.34,"jitter":-0.031},
      {"size":"128x128","ratio":1.34,"jitter":-0.019},
      {"size":"128x128","ratio":1.34,"jitter":-0.007},
      {"size":"128x128","ratio":1.34,"jitter":0.005},
      {"size":"128x128","ratio":1.34,"jitter":0.017},
      {"size":"128x128","ratio":1.34,"jitter":0.029},
      {"size":"128x128","ratio":1.31,"jitter":-0.027},
      {"size":"128x128","ratio":1.31,"jitter":-0.014},
      {"size":"128x128","ratio":1.31,"jitter":-0.002},
      {"size":"128x128","ratio":1.31,"jitter":0.01},
      {"size":"128x128","ratio":1.31,"jitter":0.022},
      {"size":"128x128","ratio":1.31,"jitter":0.033},
      {"size":"128x128","ratio":1.28,"jitter":-0.034},
      {"size":"128x128","ratio":1.28,"jitter":-0.022},
      {"size":"128x128","ratio":1.28,"jitter":-0.01},
      {"size":"128x128","ratio":1.28,"jitter":0.002},
      {"size":"128x128","ratio":1.28,"jitter":0.014},
      {"size":"128x128","ratio":1.28,"jitter":0.026},
      {"size":"128x128","ratio":1.25,"jitter":-0.029},
      {"size":"128x128","ratio":1.25,"jitter":-0.016},
      {"size":"128x128","ratio":1.25,"jitter":-0.004},
      {"size":"128x128","ratio":1.25,"jitter":0.008},
      {"size":"128x128","ratio":1.25,"jitter":0.02},
      {"size":"128x128","ratio":1.25,"jitter":0.031},
      {"size":"128x128","ratio":1.22,"jitter":-0.031},
      {"size":"128x128","ratio":1.22,"jitter":-0.019},
      {"size":"128x128","ratio":1.22,"jitter":-0.007},
      {"size":"128x128","ratio":1.22,"jitter":0.005},
      {"size":"128x128","ratio":1.22,"jitter":0.017},
      {"size":"128x128","ratio":1.22,"jitter":0.029},
      {"size":"128x128","ratio":1.19,"jitter":-0.027},
      {"size":"128x128","ratio":1.19,"jitter":-0.014},
      {"size":"128x128","ratio":1.19,"jitter":-0.002},
      {"size":"128x128","ratio":1.19,"jitter":0.01},
      {"size":"128x128","ratio":1.19,"jitter":0.022},
      {"size":"128x128","ratio":1.19,"jitter":0.033},
      {"size":"128x128","ratio":1.16,"jitter":-0.034},
      {"size":"128x128","ratio":1.16,"jitter":-0.022},
      {"size":"128x128","ratio":1.16,"jitter":-0.01},
      {"size":"128x128","ratio":1.16,"jitter":0.002},
      {"size":"128x128","ratio":1.16,"jitter":0.014},
      {"size":"128x128","ratio":1.16,"jitter":0.026},
      {"size":"128x128","ratio":1.13,"jitter":-0.029},
      {"size":"128x128","ratio":1.13,"jitter":-0.016},
      {"size":"128x128","ratio":1.13,"jitter":-0.004},
      {"size":"128x128","ratio":1.13,"jitter":0.008},
      {"size":"128x128","ratio":1.13,"jitter":0.02},
      {"size":"128x128","ratio":1.13,"jitter":0.031},
      {"size":"128x128","ratio":1.1,"jitter":-0.031},
      {"size":"128x128","ratio":1.1,"jitter":-0.019},
      {"size":"128x128","ratio":1.1,"jitter":-0.007},
      {"size":"128x128","ratio":1.1,"jitter":0.005},
      {"size":"128x128","ratio":1.1,"jitter":0.017},
      {"size":"128x128","ratio":1.1,"jitter":0.029},
      {"size":"128x128","ratio":1.07,"jitter":-0.027},
      {"size":"128x128","ratio":1.07,"jitter":-0.014},
      {"size":"128x128","ratio":1.07,"jitter":-0.002},
      {"size":"128x128","ratio":1.07,"jitter":0.01},
      {"size":"128x128","ratio":1.07,"jitter":0.022},
      {"size":"128x128","ratio":1.07,"jitter":0.033},
      {"size":"128x128","ratio":1.04,"jitter":-0.034},
      {"size":"128x128","ratio":1.04,"jitter":-0.022},
      {"size":"128x128","ratio":1.04,"jitter":-0.01},
      {"size":"128x128","ratio":1.04,"jitter":0.002},
      {"size":"128x128","ratio":1.04,"jitter":0.014},
      {"size":"128x128","ratio":1.04,"jitter":0.026},
      {"size":"128x128","ratio":1.01,"jitter":-0.029},
      {"size":"128x128","ratio":1.01,"jitter":-0.016},
      {"size":"128x128","ratio":1.01,"jitter":-0.004},
      {"size":"128x128","ratio":1.01,"jitter":0.008},
      {"size":"128x128","ratio":1.01,"jitter":0.02},
      {"size":"128x128","ratio":1.01,"jitter":0.031},
      {"size":"128x128","ratio":0.98,"jitter":-0.031},
      {"size":"128x128","ratio":0.98,"jitter":-0.019},
      {"size":"128x128","ratio":0.98,"jitter":-0.007},
      {"size":"128x128","ratio":0.98,"jitter":0.005},
      {"size":"128x128","ratio":0.98,"jitter":0.017},
      {"size":"128x128","ratio":0.98,"jitter":0.029},
      {"size":"128x128","ratio":0.95,"jitter":-0.027},
      {"size":"128x128","ratio":0.95,"jitter":-0.014},
      {"size":"128x128","ratio":0.95,"jitter":-0.002},
      {"size":"128x128","ratio":0.95,"jitter":0.01},
      {"size":"128x128","ratio":0.95,"jitter":0.022},
      {"size":"128x128","ratio":0.95,"jitter":0.033},
      {"size":"128x128","ratio":0.92,"jitter":-0.034},
      {"size":"128x128","ratio":0.92,"jitter":-0.022},
      {"size":"128x128","ratio":0.92,"jitter":-0.01},
      {"size":"128x128","ratio":0.92,"jitter":0.002},
      {"size":"128x128","ratio":0.92,"jitter":0.014},
      {"size":"128x128","ratio":0.92,"jitter":0.026},
      {"size":"128x128","ratio":0.89,"jitter":-0.029},
      {"size":"128x128","ratio":0.89,"jitter":-0.016},
      {"size":"128x128","ratio":0.89,"jitter":-0.004},
      {"size":"128x128","ratio":0.89,"jitter":0.008},
      {"size":"128x128","ratio":0.89,"jitter":0.02},
      {"size":"128x128","ratio":0.89,"jitter":0.031},
      {"size":"128x128","ratio":0.86,"jitter":-0.031},
      {"size":"128x128","ratio":0.86,"jitter":-0.016},
      {"size":"128x128","ratio":0.86,"jitter":-0.001},
      {"size":"128x128","ratio":0.86,"jitter":0.014},
      {"size":"128x128","ratio":0.86,"jitter":0.029}
    ]
  },
  "resolve": {"axis": {"x": "independent", "y": "independent"}},
  "layer": [
    {
      "data": {"name": "points"},
      "mark": {"type": "circle", "size": 440, "opacity": 0.5},
      "encoding": {
        "x": {
          "field": "size",
          "type": "nominal",
          "sort": ["8x8", "16x16", "32x32", "64x64", "128x128"],
          "scale": {"type": "point", "domain": ["8x8", "16x16", "32x32", "64x64", "128x128"], "padding": 0.2231, "align": 0.529},
          "axis": {
            "orient": "bottom",
            "title": "Matrix size",
            "titleFontSize": 47,
            "titlePadding": 12,
            "labelFontSize": 47,
            "labelAngle": 0,
            "labelPadding": 15,
            "tickSize": 16,
            "tickWidth": 3,
            "tickColor": "black",
            "domainColor": "black",
            "domainWidth": 3.5,
            "grid": false
          }
        },
        "xOffset": {"field": "jitter", "type": "quantitative", "scale": {"domain": [-0.5, 0.5], "range": [-325, 325]}},
        "y": {
          "field": "ratio",
          "type": "quantitative",
          "scale": {"domain": [0, 5.081], "nice": false, "zero": false},
          "axis": {
            "orient": "left",
            "title": "Branch-flag / global cost",
            "titleFontSize": 47,
            "titlePadding": 24,
            "values": [0, 1, 2, 3, 4, 5],
            "format": "d",
            "labelFontSize": 47,
            "labelPadding": 17,
            "tickSize": 16,
            "tickWidth": 3,
            "tickColor": "black",
            "domainColor": "black",
            "domainWidth": 3.5,
            "grid": true,
            "gridColor": "#e6e6e6",
            "gridWidth": 3
          }
        },
        "color": {
          "field": "size",
          "type": "nominal",
          "scale": {"domain": ["8x8", "16x16", "32x32", "64x64", "128x128"], "range": ["#4C78A8", "#E8883A", "#55A04B", "#BF3F36", "#8B6AB8"]},
          "legend": null
        }
      }
    },
    {
      "data": {"values": [{"baseline": 1}]},
      "mark": {"type": "rule", "color": "#555555", "strokeWidth": 4.5, "strokeDash": [17, 8]},
      "encoding": {
        "y": {"field": "baseline", "type": "quantitative", "scale": {"domain": [0, 5.081], "nice": false, "zero": false}, "axis": null}
      }
    },
    {
      "data": {"name": "summary"},
      "mark": {"type": "line", "color": "black", "strokeWidth": 8.5},
      "encoding": {
        "x": {
          "field": "size",
          "type": "nominal",
          "sort": ["8x8", "16x16", "32x32", "64x64", "128x128"],
          "axis": {"orient": "top", "labels": false, "ticks": false, "title": null, "domainColor": "black", "domainWidth": 3.5, "grid": false}
        },
        "y": {"field": "median", "type": "quantitative", "scale": {"domain": [0, 5.081], "nice": false, "zero": false}, "axis": null},
        "order": {"value": null}
      }
    },
    {
      "data": {"name": "summary"},
      "mark": {"type": "rule", "color": "black", "strokeWidth": 7},
      "encoding": {
        "x": {"field": "size", "type": "nominal", "sort": ["8x8", "16x16", "32x32", "64x64", "128x128"], "axis": null},
        "y": {"field": "lo", "type": "quantitative", "scale": {"domain": [0, 5.081], "nice": false, "zero": false}, "axis": null},
        "y2": {"field": "hi"}
      }
    },
    {
      "data": {"name": "summary"},
      "mark": {"type": "tick", "color": "black", "size": 38, "thickness": 5, "opacity": 1},
      "encoding": {
        "x": {"field": "size", "type": "nominal", "sort": ["8x8", "16x16", "32x32", "64x64", "128x128"], "axis": null},
        "y": {"field": "lo", "type": "quantitative", "scale": {"domain": [0, 5.081], "nice": false, "zero": false}, "axis": null}
      }
    },
    {
      "data": {"name": "summary"},
      "mark": {"type": "tick", "color": "black", "size": 38, "thickness": 5, "opacity": 1},
      "encoding": {
        "x": {"field": "size", "type": "nominal", "sort": ["8x8", "16x16", "32x32", "64x64", "128x128"], "axis": null},
        "y": {"field": "hi", "type": "quantitative", "scale": {"domain": [0, 5.081], "nice": false, "zero": false}, "axis": null}
      }
    },
    {
      "data": {"name": "summary"},
      "mark": {"type": "circle", "color": "black", "size": 855, "opacity": 1},
      "encoding": {
        "x": {"field": "size", "type": "nominal", "sort": ["8x8", "16x16", "32x32", "64x64", "128x128"], "axis": null},
        "y": {"field": "median", "type": "quantitative", "scale": {"domain": [0, 5.081], "nice": false, "zero": false}, "axis": null}
      }
    }
  ]
}
